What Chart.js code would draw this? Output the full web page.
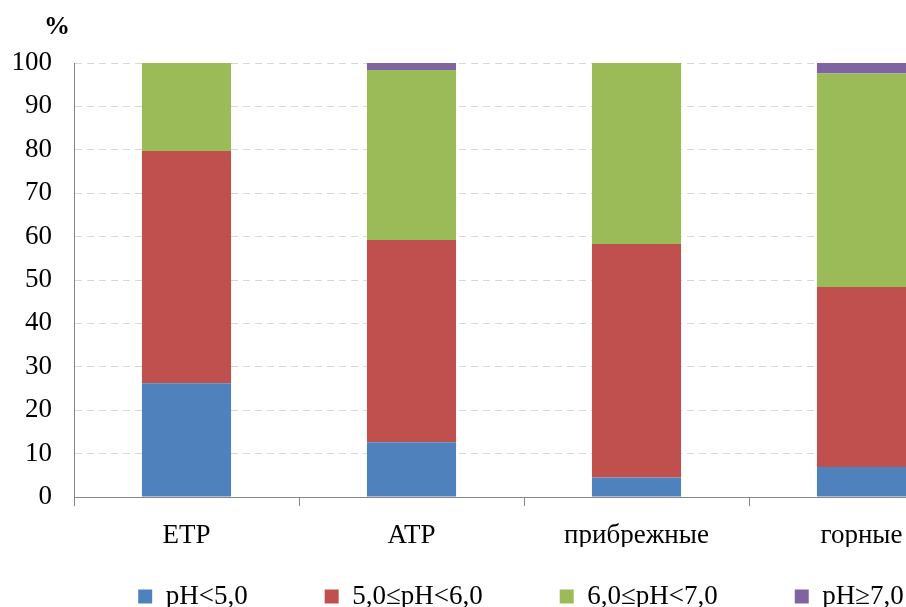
<!DOCTYPE html>
<html>
<head>
<meta charset="utf-8">
<script src="https://cdn.jsdelivr.net/npm/chart.js@4.4.1/dist/chart.umd.min.js"></script>
<style>
    body { margin: 0; overflow: hidden; background: #fff; }
    #wrap { width: 1039px; height: 607px; }
</style>
</head>
<body>
<div id="wrap"><canvas id="mycanvas"></canvas></div>
<script>
var categories = ['ETP', 'ATP', 'прибрежные', 'горные'];
var seriesNames = ['pH<5,0', '5,0≤pH<6,0', '6,0≤pH<7,0', 'pH≥7,0'];
var ph1 = [26.2, 12.6, 4.5, 6.9];
var ph2 = [53.5, 46.6, 53.8, 41.5];
var ph3 = [20.3, 39.2, 41.7, 49.2];
var ph4 = [0, 1.6, 0, 2.4];
var yTicks = [0, 10, 20, 30, 40, 50, 60, 70, 80, 90, 100];
var colors = ['#4F81BD', '#C0504D', '#9BBB59', '#8064A2'];

var font = "'Liberation Serif', 'Times New Roman', serif";

var values = [ph1, ph2, ph3, ph4];
var datasets = [];
for (var i = 0; i < values.length; i++) {
    datasets.push({
        label: seriesNames[i],
        data: values[i],
        backgroundColor: colors[i],
        borderWidth: 0,
        categoryPercentage: 1,
        barPercentage: 0.396
    });
}

// "%" over the y axis
var percentLabel = {
    id: 'percentLabel',
    afterDraw: function (chart) {
        var ctx = chart.ctx;
        ctx.save();
        ctx.font = 'bold 26px ' + font;
        ctx.fillStyle = '#000';
        ctx.textAlign = 'center';
        ctx.textBaseline = 'middle';
        ctx.fillText('%', chart.chartArea.left - 17, chart.chartArea.top - 36);
        ctx.restore();
    }
};

// legend uses the same padding vertically, so pull it up and over a bit
var legendShift = {
    id: 'legendShift',
    afterLayout: function (chart) {
        var lg = chart.legend;
        lg.top = lg.bottom - 101;
        lg.left += 34;
        lg.right += 34;
    }
};

var ctx = document.getElementById('mycanvas');
var barGraph = new Chart(ctx, {
    type: 'bar',
    data: { labels: categories, datasets: datasets },
    plugins: [percentLabel, legendShift],
    options: {
        responsive: true,
        maintainAspectRatio: false,
        animation: false,
        layout: { padding: { top: 63, right: 65, left: 0, bottom: 0 } },
        plugins: {
            tooltip: { enabled: false },
            legend: {
                position: 'bottom',
                maxHeight: 60,
                labels: {
                    boxWidth: 14,
                    boxHeight: 14,
                    padding: 77,
                    color: '#000',
                    font: { family: font, size: 27 }
                }
            }
        },
        scales: {
            x: {
                stacked: true,
                afterFit: function (s) { s.height = 50; },
                grid: {
                    offset: true,
                    drawOnChartArea: false,
                    drawTicks: true,
                    tickLength: 9,
                    color: '#868686'
                },
                border: { color: '#868686', width: 1 },
                ticks: {
                    padding: 14,
                    color: '#000',
                    font: { family: font, size: 27 }
                }
            },
            y: {
                stacked: true,
                min: 0,
                max: 100,
                afterFit: function (s) { s.width = 74; },
                afterBuildTicks: function (s) {
                    s.ticks = yTicks.map(function (v) { return { value: v }; });
                },
                grid: {
                    drawTicks: false,
                    color: '#d9d9d9',
                    lineWidth: 1
                },
                border: { color: '#868686', width: 1, dash: [7, 5] },
                ticks: {
                    padding: 22,
                    color: '#000',
                    font: { family: font, size: 27 }
                }
            }
        }
    }
});
</script>
</body>
</html>
